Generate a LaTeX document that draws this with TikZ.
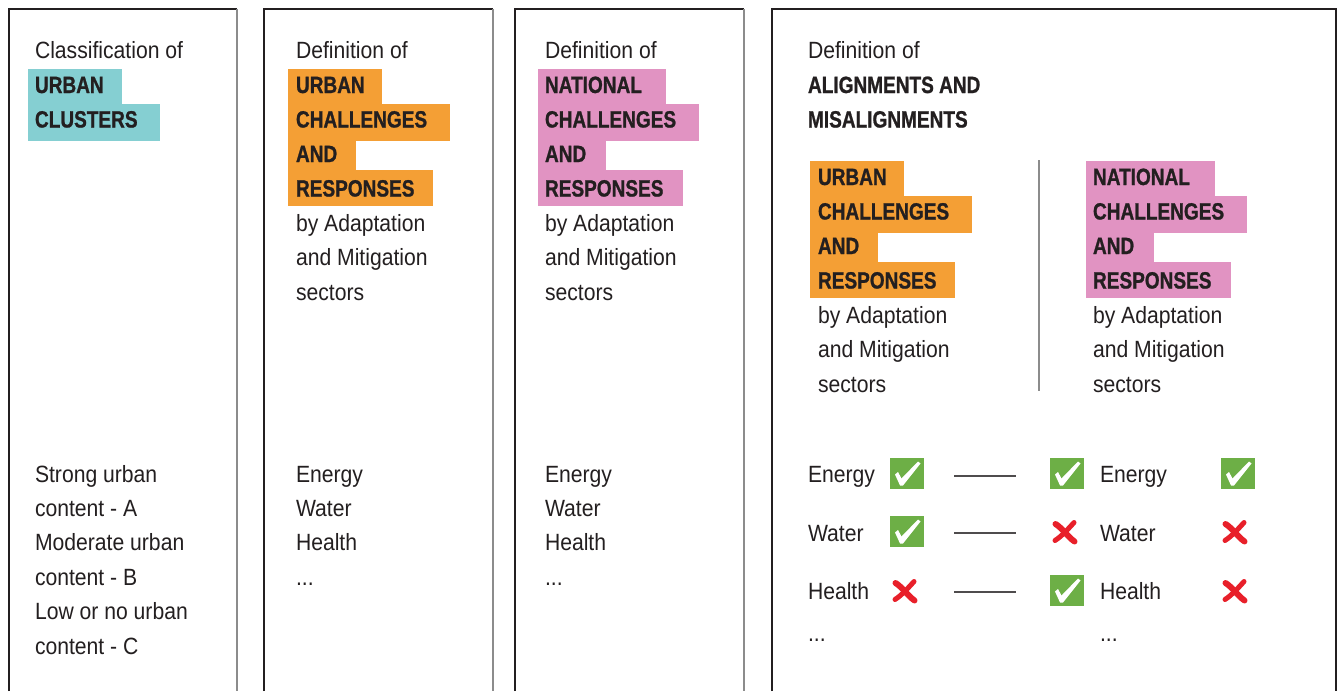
\documentclass[tikz,border=0pt]{standalone}
\usepackage{fontspec}
\setmainfont{Liberation Sans}[FakeStretch=0.9]
\newfontfamily\hdfont{Liberation Sans}[FakeStretch=0.81,FakeBold=1]
\definecolor{ink}{HTML}{231F20}
\definecolor{tealhl}{HTML}{85CFD2}
\definecolor{orng}{HTML}{F49F35}
\definecolor{pnk}{HTML}{E193C2}
\definecolor{okgreen}{HTML}{6DAF46}
\definecolor{nored}{HTML}{E8202A}
\definecolor{edgegray}{HTML}{8C8C8C}
\begin{document}
\begin{tikzpicture}[x=1pt,y=-1pt,
  txt/.style={anchor=base west, inner sep=0pt, outer sep=0pt, text=ink, font=\fontsize{23.5}{28}\selectfont},
  hd/.style={txt, font=\hdfont\bfseries\fontsize{23.5}{28}\selectfont},
  dark/.style={draw=ink, line width=1.5pt},
  lite/.style={draw=edgegray, line width=2pt},
  chk/.style={fill=okgreen, minimum width=34pt, minimum height=31pt, inner sep=0pt,
    path picture={\fill[white, shift={(path picture bounding box.center)}]
      (-12,1) -- (-9,-1.5) -- (-5.5,5) -- (11,-12) -- (13.5,-10) -- (-4,12) -- (-7,12) -- cycle;}},
  crs/.style={minimum width=32pt, minimum height=32pt, inner sep=0pt,
    path picture={\begin{scope}[shift={(path picture bounding box.center)}]
      \draw[nored, line width=6pt, line cap=round] (-9.5,-8) .. controls (-4,-5) and (3,5) .. (9.5,9.5);
      \draw[nored, line width=5pt, line cap=round] (9,-9.5) .. controls (4,-4) and (-3,4) .. (-10,8.5);
    \end{scope}}},
  link/.style={draw=ink!80, line width=1.3pt}
]
\useasboundingbox[fill=white] (0,0) rectangle (1338,691);

% panel frames
\draw[dark] (9,691) -- (9,9) -- (237,9);
\draw[lite] (237,9) -- (237,691);
\draw[dark] (264,691) -- (264,9) -- (493,9);
\draw[lite] (493,9) -- (493,691);
\draw[dark] (515,691) -- (515,9) -- (744,9);
\draw[lite] (744,9) -- (744,691);
\draw[dark] (772,691) -- (772,9) -- (1336,9) -- (1336,691);

% highlights panel 1
\fill[tealhl] (28,69) rectangle (122,104);
\fill[tealhl] (28,104) rectangle (160,141);
% highlights panel 2
\fill[orng] (288,69) rectangle (382,104);
\fill[orng] (288,104) rectangle (450,141);
\fill[orng] (288,141) rectangle (356,170);
\fill[orng] (288,170) rectangle (433,206);
% highlights panel 3
\fill[pnk] (538,69) rectangle (666,104);
\fill[pnk] (538,104) rectangle (699,141);
\fill[pnk] (538,141) rectangle (606,170);
\fill[pnk] (538,170) rectangle (683,206);
% highlights panel 4
\fill[orng] (810,161) rectangle (904,196);
\fill[orng] (810,196) rectangle (972,233);
\fill[orng] (810,233) rectangle (878,262);
\fill[orng] (810,262) rectangle (955,298);
\fill[pnk] (1086,161) rectangle (1215,196);
\fill[pnk] (1086,196) rectangle (1247,233);
\fill[pnk] (1086,233) rectangle (1154,262);
\fill[pnk] (1086,262) rectangle (1231,298);

% separator in panel 4
\draw[lite] (1039,160) -- (1039,391);

% panel 1 texts
\node[txt] (p1h) at (35,58) {Classification of};
\node[hd] (p1a) at (35,93) {URBAN};
\node[hd] (p1b) at (35,127.5) {CLUSTERS};
\foreach \t [count=\i from 0] in {Strong urban, content - A, Moderate urban, content - B, Low or no urban, content - C}
  \node[txt] (p1l-\i) at (35,482+34.4*\i) {\t};

% panel 2 texts
\node[txt] (p2h) at (296,58) {Definition of};
\foreach \t [count=\i from 0] in {URBAN, CHALLENGES, AND, RESPONSES}
  \node[hd] (p2k-\i) at (296,93+34.5*\i) {\t};
\foreach \t [count=\i from 0] in {by Adaptation, and Mitigation, sectors}
  \node[txt] (p2s-\i) at (296,231+34.5*\i) {\t};
\foreach \t [count=\i from 0] in {Energy, Water, Health}
  \node[txt] (p2l-\i) at (296,482+34.4*\i) {\t};
\node[txt] (p2dots) at (296,585) {...};

% panel 3 texts
\node[txt] (p3h) at (545,58) {Definition of};
\foreach \t [count=\i from 0] in {NATIONAL, CHALLENGES, AND, RESPONSES}
  \node[hd] (p3k-\i) at (545,93+34.5*\i) {\t};
\foreach \t [count=\i from 0] in {by Adaptation, and Mitigation, sectors}
  \node[txt] (p3s-\i) at (545,231+34.5*\i) {\t};
\foreach \t [count=\i from 0] in {Energy, Water, Health}
  \node[txt] (p3l-\i) at (545,482+34.4*\i) {\t};
\node[txt] (p3dots) at (545,585) {...};

% panel 4 texts
\node[txt] (p4h) at (808,58) {Definition of};
\node[hd] (p4a) at (808,93) {ALIGNMENTS AND};
\node[hd] (p4b) at (808,127.5) {MISALIGNMENTS};
\foreach \t [count=\i from 0] in {URBAN, CHALLENGES, AND, RESPONSES}
  \node[hd] (p4u-\i) at (818,185+34.5*\i) {\t};
\foreach \t [count=\i from 0] in {by Adaptation, and Mitigation, sectors}
  \node[txt] (p4us-\i) at (818,323+34.5*\i) {\t};
\foreach \t [count=\i from 0] in {NATIONAL, CHALLENGES, AND, RESPONSES}
  \node[hd] (p4n-\i) at (1093,185+34.5*\i) {\t};
\foreach \t [count=\i from 0] in {by Adaptation, and Mitigation, sectors}
  \node[txt] (p4ns-\i) at (1093,323+34.5*\i) {\t};

% comparison rows
\node[txt] (e1) at (808,482) {Energy};
\node[txt] (w1) at (808,541) {Water};
\node[txt] (h1) at (808,599) {Health};
\node[txt] (d1) at (808,641) {...};
\node[txt] (e2) at (1100,482) {Energy};
\node[txt] (w2) at (1100,541) {Water};
\node[txt] (h2) at (1100,599) {Health};
\node[txt] (d2) at (1100,641) {...};

\node[chk] (m11) at (907,473.5) {};
\node[chk] (m12) at (1067,473.5) {};
\node[chk] (m13) at (1238,473.5) {};
\node[chk] (m21) at (907,531.5) {};
\node[crs] (m22) at (1065,532) {};
\node[crs] (m23) at (1235,532) {};
\node[crs] (m31) at (905,591) {};
\node[chk] (m32) at (1067,590.5) {};
\node[crs] (m33) at (1235,591) {};

\coordinate (a1) at (954,476); \coordinate (b1) at (1016,476);
\coordinate (a2) at (954,533); \coordinate (b2) at (1016,533);
\coordinate (a3) at (954,592); \coordinate (b3) at (1016,592);
\draw[link] (a1) -- (b1);
\draw[link] (a2) -- (b2);
\draw[link] (a3) -- (b3);
\end{tikzpicture}
\end{document}
